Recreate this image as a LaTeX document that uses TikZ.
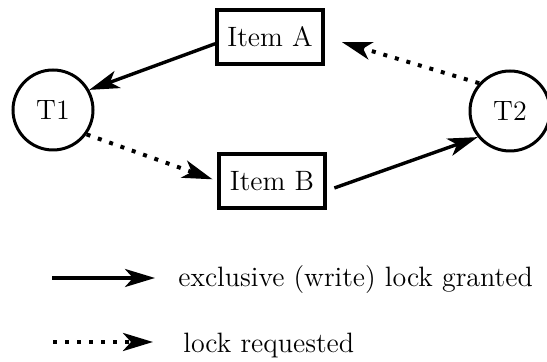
\documentclass[tikz,border=0pt]{standalone}
\usetikzlibrary{arrows.meta}

\tikzset{
    trans/.style={circle, draw, line width=1.5pt, minimum size=40pt, inner sep=0pt},
    item/.style={rectangle, draw, line width=1.8pt, minimum width=53pt, minimum height=27pt, inner sep=0pt},
    tip/.style={-{Stealth[length=15pt, width=9pt, inset=4pt]}},
    granted/.style={tip, line width=1.7pt},
    requested/.style={tip, line width=2pt, dash pattern=on 2pt off 4pt},
}

\begin{document}
\begin{tikzpicture}[x=0.5pt, y=-0.5pt, font=\fontsize{14}{17}\selectfont]

    % Рамка рисунка
    \useasboundingbox (0,0) rectangle (547,362);

    % Транзакции
    \node[trans] (t1) at (53,110) {T1};
    \node[trans] (t2) at (510,111) {T2};

    % Элементы данных
    \node[item] (itemA) at (270,37) {Item A};
    \node[item] (itemB) at (272,181) {Item B};

    % Блокировки
    \draw[granted] (itemA.187) -- (t1.29);
    \draw[requested, shorten >=9pt] (t2.138) -- (itemA.east);
    \draw[requested, shorten >=2.5pt] (t1.-36) -- (itemB.west);
    \draw[granted, shorten <=4pt] (itemB.-10) -- (t2.-141);

    % Легенда
    \coordinate (grantedL) at (52,278);
    \coordinate (grantedR) at (155,278);
    \draw[granted] (grantedL) -- (grantedR);
    \node[anchor=base west, inner sep=0pt] (grantedText) at (178,287) {exclusive (write) lock granted};

    \coordinate (requestedL) at (53,342);
    \coordinate (requestedR) at (153,342);
    \draw[requested] (requestedL) -- (requestedR);
    \node[anchor=base west, inner sep=0pt] (requestedText) at (183,353) {lock requested};

\end{tikzpicture}
\end{document}
